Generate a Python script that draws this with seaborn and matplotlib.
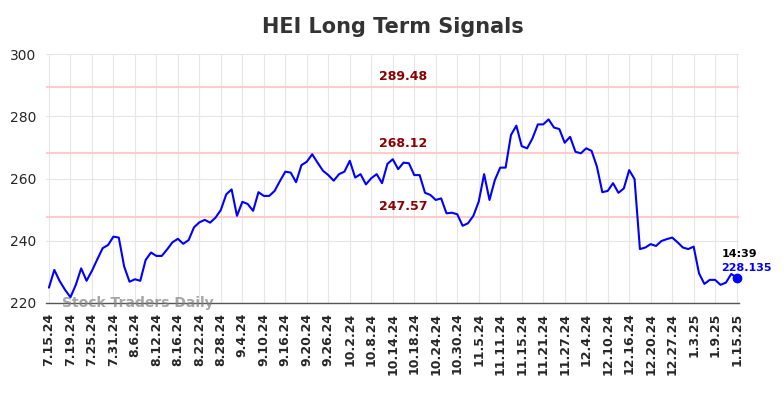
import numpy as np
import pandas as pd
import matplotlib
matplotlib.use("Agg")
import matplotlib.pyplot as plt
import seaborn as sns

# closing prices, one per trading day
prices = [
    224.9, 230.6, 227.0, 224.2, 221.8, 225.8, 231.1, 227.1, 230.3, 234.0,
    237.6, 238.6, 241.3, 241.0, 231.7, 226.8, 227.6, 227.1, 233.8, 236.2,
    235.1, 235.1, 237.2, 239.5, 240.6, 239.0, 240.2, 244.3, 245.9, 246.7,
    245.8, 247.4, 249.9, 254.9, 256.5, 248.0, 252.5, 251.8, 249.6, 255.6,
    254.4, 254.4, 256.0, 259.2, 262.2, 261.9, 258.8, 264.3, 265.4, 267.8,
    265.1, 262.5, 261.1, 259.3, 261.4, 262.2, 265.7, 260.3, 261.4, 258.1,
    260.1, 261.4, 258.5, 264.7, 266.2, 263.0, 265.1, 264.9, 261.1, 261.1,
    255.4, 254.7, 253.1, 253.6, 248.8, 249.0, 248.5, 244.8, 245.6, 248.0,
    252.6, 261.4, 253.1, 259.5, 263.5, 263.5, 274.0, 277.0, 270.4, 269.7,
    272.9, 277.4, 277.4, 279.0, 276.4, 275.9, 271.5, 273.4, 268.6, 268.1,
    269.7, 268.9, 263.8, 255.6, 256.0, 258.5, 255.4, 256.8, 262.7, 259.8,
    237.3, 237.8, 238.9, 238.3, 239.9, 240.5, 241.0, 239.5, 237.8, 237.3,
    238.1, 229.5, 226.1, 227.4, 227.4, 225.8, 226.5, 229.3, 228.135,
]

# x tick labels, one every 4 trading days
tick_labels = [
    "7.15.24", "7.19.24", "7.25.24", "7.31.24", "8.6.24", "8.12.24", "8.16.24",
    "8.22.24", "8.28.24", "9.4.24", "9.10.24", "9.16.24", "9.20.24", "9.26.24",
    "10.2.24", "10.8.24", "10.14.24", "10.18.24", "10.24.24", "10.30.24",
    "11.5.24", "11.11.24", "11.15.24", "11.21.24", "11.27.24", "12.4.24",
    "12.10.24", "12.16.24", "12.20.24", "12.27.24", "1.3.25", "1.9.25", "1.15.25",
]

levels = [289.48, 268.12, 247.57]
last_time = "14:39"

df = pd.DataFrame({"idx": np.arange(len(prices)), "price": prices})
n = len(prices)
last = df["price"].iloc[-1]

sns.set_style("whitegrid", {"grid.color": "#e6e6e6"})
fig = plt.figure(figsize=(7.84, 3.98), dpi=100)
ax = fig.add_axes([0.059, 0.239, 0.884, 0.625])

for lv in levels:
    ax.axhline(lv, color="#ffcccc", lw=1.5, zorder=1)
    ax.text(66, lv + 1.2, f"{lv:.2f}", color="#8b0000", fontsize=9,
            fontweight="bold", ha="center", va="bottom")

sns.lineplot(data=df, x="idx", y="price", color="blue", lw=1.5, ax=ax, zorder=3)
ax.plot(n - 1, last, "o", color="blue", ms=6, zorder=4, clip_on=False)

# last price annotation
ax.text(n - 3.8, last + 7.6, last_time, fontsize=8,
        fontweight="bold", color="black", ha="left", va="center")
ax.text(n - 3.8, last + 3.1, f"{last:.3f}",
        fontsize=8, fontweight="bold", color="blue", ha="left", va="center")

# watermark
ax.text(2.4, 220, "Stock Traders Daily", fontsize=10, fontweight="bold",
        color="gray", alpha=0.7, ha="left", va="center")

ax.set_xlim(-0.5, n - 0.5)
ax.set_ylim(220, 300)
ax.set_yticks([220, 240, 260, 280, 300])
ax.set_xticks(np.arange(0, n, 4))
ax.set_xticklabels(tick_labels, rotation=90, fontweight="bold", fontsize=9)
ax.tick_params(axis="y", labelsize=10)
ax.set_xlabel("")
ax.set_ylabel("")
ax.set_title("HEI Long Term Signals", fontsize=15, fontweight="bold", color="#333333", pad=15)

for s in ["left", "right", "top"]:
    ax.spines[s].set_visible(False)
ax.spines["bottom"].set_color("#555555")
ax.spines["bottom"].set_linewidth(1)

fig.savefig("out.png", dpi=100)
